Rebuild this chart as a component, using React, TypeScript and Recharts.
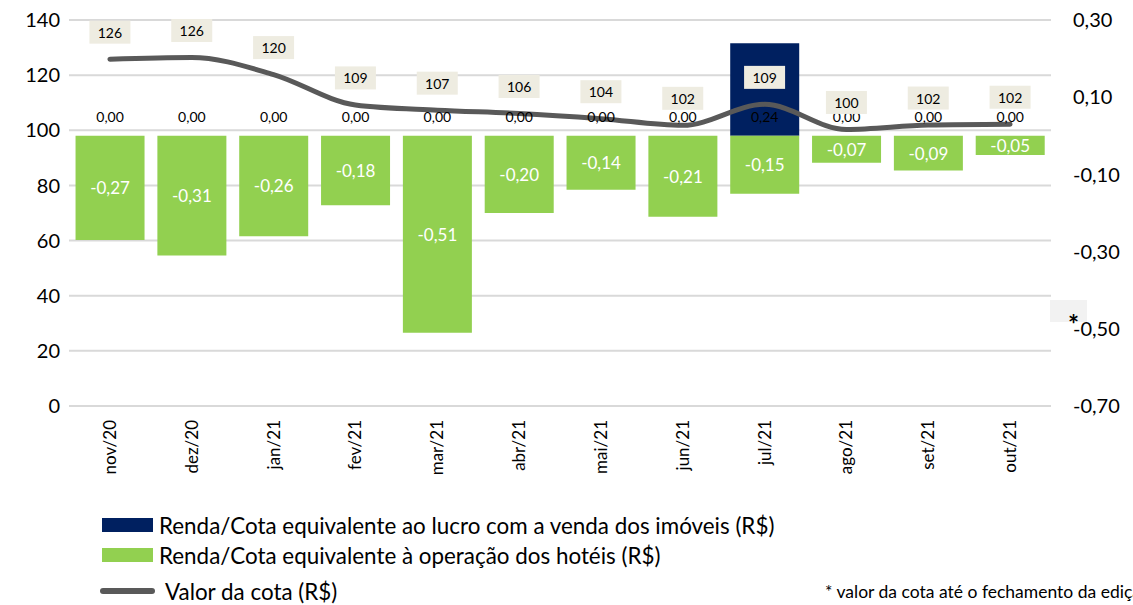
import React from 'react';
import { ComposedChart, Bar, Line, XAxis, YAxis, CartesianGrid, LabelList } from 'recharts';

const categories = ['nov/20', 'dez/20', 'jan/21', 'fev/21', 'mar/21', 'abr/21', 'mai/21', 'jun/21', 'jul/21', 'ago/21', 'set/21', 'out/21'];
const vendaImoveis = [0, 0, 0, 0, 0, 0, 0, 0, 0.24, 0, 0, 0];
const operacaoHoteis = [-0.27, -0.31, -0.26, -0.18, -0.51, -0.2, -0.14, -0.21, -0.15, -0.07, -0.09, -0.05];
const valorCota = [125.8, 126.4, 120.2, 109.2, 107.3, 106.1, 104.2, 101.8, 109.4, 100.3, 101.9, 102.2];
const leftTicks = [0, 20, 40, 60, 80, 100, 120, 140];
const rightTicks = [-0.7, -0.5, -0.3, -0.1, 0.1, 0.3];

const data = categories.map((c, i) => ({
  cat: c,
  venda: vendaImoveis[i],
  hoteis: operacaoHoteis[i],
  cota: valorCota[i],
}));

const FONT = 'Lato, "Open Sans", sans-serif';
const NAVY = '#002060';
const GREEN = '#92D050';
const GRAY = '#595959';

const fmt2 = (v: number) => v.toFixed(2).replace('.', ',');

const XTick = (props: any) => {
  const { x, y, payload } = props;
  return (
    <text
      transform={`translate(${x},${y + 14}) rotate(-90)`}
      textAnchor="end"
      dy="0.35em"
      fontSize={17}
      fontFamily={FONT}
      fill="#000"
    >
      {payload.value}
    </text>
  );
};

// label of the "venda" series, drawn using the green bar geometry (its top is the zero line)
const VendaLabel = (props: any) => {
  const { x, y, width, height, value } = props;
  const zero = Math.min(y, y + height);
  return (
    <text x={x + width / 2} y={zero - 19} textAnchor="middle" dominantBaseline="central" fontSize={14} fontFamily={FONT} fill="#000">
      {fmt2(Number(value))}
    </text>
  );
};

const HoteisLabel = (props: any) => {
  const { x, y, width, height, value } = props;
  const cy = y + height / 2;
  return (
    <text x={x + width / 2} y={cy} textAnchor="middle" dominantBaseline="central" fontSize={17} fontFamily={FONT} fill="#fff">
      {fmt2(Number(value))}
    </text>
  );
};

const CotaLabel = (props: any) => {
  const { x, y, value } = props;
  const cy = y - 27;
  return (
    <g>
      <rect x={x - 20.5} y={cy - 11.5} width={41} height={23} fill="#EEECE1" />
      <text x={x} y={cy} textAnchor="middle" dominantBaseline="central" fontSize={14} fontFamily={FONT} fill="#000">
        {Math.round(Number(value))}
      </text>
    </g>
  );
};

export default function App() {
  return (
    <div style={{ position: 'absolute', left: 0, top: 0, width: 1133, height: 605, background: '#fff', overflow: 'hidden', fontFamily: FONT }}>
      <ComposedChart
        width={1133}
        height={500}
        data={data}
        stackOffset="sign"
        barCategoryGap="8%"
        margin={{ top: 20, right: 0, bottom: 14, left: 0 }}
      >
        <CartesianGrid yAxisId="left" vertical={false} stroke="#D9D9D9" strokeWidth={2} />
        <XAxis
          dataKey="cat"
          axisLine={false}
          tickLine={false}
          tickSize={0}
          tickMargin={0}
          height={80}
          interval={0}
          tick={<XTick />}
        />
        <YAxis
          yAxisId="left"
          domain={[0, 140]}
          ticks={leftTicks}
          axisLine={false}
          tickLine={false}
          tickSize={0}
          tickMargin={9}
          width={69}
          tick={{ fontSize: 20, fontFamily: FONT, fill: '#000' }}
        />
        <YAxis
          yAxisId="right"
          orientation="right"
          domain={[-0.7, 0.3]}
          ticks={rightTicks}
          axisLine={false}
          tickLine={false}
          tickSize={0}
          tickMargin={22}
          width={82}
          tickFormatter={(v: number) => fmt2(v)}
          tick={{ fontSize: 20, fontFamily: FONT, fill: '#000', textAnchor: 'start' }}
        />
        <Bar yAxisId="right" dataKey="venda" stackId="a" fill={NAVY} isAnimationActive={false} />
        <Bar yAxisId="right" dataKey="hoteis" stackId="a" fill={GREEN} isAnimationActive={false}>
          <LabelList dataKey="hoteis" content={<HoteisLabel />} />
          <LabelList dataKey="venda" content={<VendaLabel />} />
        </Bar>
        <Line
          yAxisId="left"
          dataKey="cota"
          type="monotone"
          stroke={GRAY}
          strokeWidth={5}
          strokeLinecap="round"
          dot={false}
          activeDot={false}
          isAnimationActive={false}
        >
          <LabelList dataKey="cota" content={<CotaLabel />} />
        </Line>
      </ComposedChart>

      <div style={{ position: 'absolute', left: 1050, top: 300, width: 37, height: 22, background: '#F2F2F2' }} />
      <div style={{ position: 'absolute', left: 1068, top: 311, fontSize: 26, fontWeight: 'bold', lineHeight: '26px', color: '#000' }}>*</div>

      <div style={{ position: 'absolute', left: 102, top: 514, display: 'flex', alignItems: 'center', height: 22 }}>
        <div style={{ width: 51, height: 14, background: NAVY }} />
        <span style={{ marginLeft: 6, fontSize: 22.4, color: '#000', whiteSpace: 'nowrap' }}>Renda/Cota equivalente ao lucro com a venda dos imóveis (R$)</span>
      </div>
      <div style={{ position: 'absolute', left: 102, top: 544, display: 'flex', alignItems: 'center', height: 22 }}>
        <div style={{ width: 51, height: 14, background: GREEN }} />
        <span style={{ marginLeft: 6, fontSize: 22.4, color: '#000', whiteSpace: 'nowrap' }}>Renda/Cota equivalente à operação dos hotéis (R$)</span>
      </div>
      <div style={{ position: 'absolute', left: 100, top: 580, display: 'flex', alignItems: 'center', height: 22 }}>
        <div style={{ width: 55, height: 6, borderRadius: 3, background: GRAY }} />
        <span style={{ marginLeft: 10, fontSize: 22.4, color: '#000', whiteSpace: 'nowrap' }}>Valor da cota (R$)</span>
      </div>
      <div style={{ position: 'absolute', left: 825, top: 581, fontSize: 17.5, lineHeight: '22px', color: '#000', whiteSpace: 'nowrap' }}>
        * valor da cota até o fechamento da edição
      </div>
    </div>
  );
}
